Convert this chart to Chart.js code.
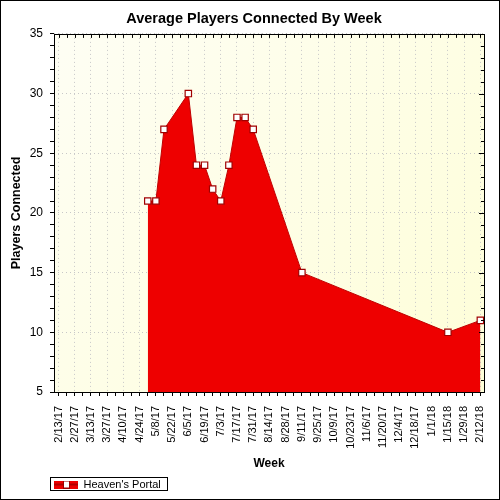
<!DOCTYPE html>
<html>
<head>
<meta charset="utf-8">
<script src="https://cdn.jsdelivr.net/npm/chart.js@4.4.1/dist/chart.umd.min.js"></script>
<style>
html, body { margin: 0; padding: 0; background: #fff; }
#wrap { width: 500px; height: 500px; }
</style>
</head>
<body>
<div id="wrap"><canvas id="playersChart" width="500" height="500"></canvas></div>
<script>
// weekly tick labels (every other one is printed)
var weekLabels = ['2/13/17', '2/20/17', '2/27/17', '3/6/17', '3/13/17', '3/20/17', '3/27/17',
    '4/3/17', '4/10/17', '4/17/17', '4/24/17', '5/1/17', '5/8/17', '5/15/17', '5/22/17',
    '5/29/17', '6/5/17', '6/12/17', '6/19/17', '6/26/17', '7/3/17', '7/10/17', '7/17/17',
    '7/24/17', '7/31/17', '8/7/17', '8/14/17', '8/21/17', '8/28/17', '9/4/17', '9/11/17',
    '9/18/17', '9/25/17', '10/2/17', '10/9/17', '10/16/17', '10/23/17', '10/30/17', '11/6/17',
    '11/13/17', '11/20/17', '11/27/17', '12/4/17', '12/11/17', '12/18/17', '12/25/17', '1/1/18',
    '1/8/18', '1/15/18', '1/22/18', '1/29/18', '2/5/18', '2/12/18'];

// weeks that have a value, and the value
var pointWeeks = ['5/1/17', '5/8/17', '5/15/17', '6/5/17', '6/12/17', '6/19/17', '6/26/17',
    '7/3/17', '7/10/17', '7/17/17', '7/24/17', '7/31/17', '9/11/17', '1/15/18', '2/12/18'];
var players = [21, 21, 27, 30, 24, 24, 22, 21, 24, 28, 28, 27, 15, 10, 11];

var seriesName = "Heaven's Portal";
var yMin = 5, yMax = 35;

var points = pointWeeks.map(function(w, i) {
    return { x: weekLabels.indexOf(w), y: players[i] };
});

// legend symbol: red bar with a white marker
var legendMark = document.createElement('canvas');
legendMark.width = 24;
legendMark.height = 8;
(function() {
    var c = legendMark.getContext('2d');
    c.fillStyle = '#ee0000';
    c.fillRect(0, 0, 24, 8);
    c.fillStyle = '#b00000';
    c.fillRect(0, 3, 24, 2);
    c.fillStyle = '#fff';
    c.fillRect(9, 1, 6, 6);
    c.strokeStyle = '#a00000';
    c.lineWidth = 1;
    c.strokeRect(9.5, 0.5, 6, 7);
})();

var decor = {
    id: 'decor',
    afterLayout: function(chart) {
        // move the legend item over to sit under the plot
        chart.legend.left = 48;
        // title is centred on the whole picture, not the padded box
        if (chart.titleBlock) {
            chart.titleBlock.left += 12;
            chart.titleBlock.right += 12;
        }
    },
    beforeDraw: function(chart) {
        var ctx = chart.ctx, a = chart.chartArea;
        ctx.save();
        ctx.fillStyle = '#fff';
        ctx.fillRect(0, 0, chart.width, chart.height);
        var g = ctx.createLinearGradient(a.left, a.top, a.right, a.bottom);
        g.addColorStop(0, '#fefef4');
        g.addColorStop(1, '#fefed8');
        ctx.fillStyle = g;
        ctx.fillRect(a.left, a.top, a.right - a.left, a.bottom - a.top);
        ctx.restore();
    },
    afterDraw: function(chart) {
        var ctx = chart.ctx, a = chart.chartArea;
        var xs = chart.scales.x, ys = chart.scales.y;
        ctx.save();
        ctx.strokeStyle = '#000';
        ctx.lineWidth = 1;
        ctx.beginPath();
        // mirrored ticks on top and right
        xs.ticks.forEach(function(t) {
            var px = Math.round(xs.getPixelForValue(t.value)) + 0.5;
            ctx.moveTo(px, a.top);
            ctx.lineTo(px, a.top + 4);
        });
        ys.ticks.forEach(function(t) {
            var py = Math.round(ys.getPixelForValue(t.value)) + 0.5;
            ctx.moveTo(a.right, py);
            ctx.lineTo(a.right - (t.value % 5 === 0 ? 5 : 3), py);
        });
        ctx.stroke();
        ctx.strokeRect(Math.round(a.left) + 0.5, Math.round(a.top) + 0.5,
            Math.round(a.right - a.left), Math.round(a.bottom - a.top));
        // outer frame
        ctx.strokeRect(0.5, 0.5, chart.width - 1, chart.height - 1);
        // legend frame
        var hb = chart.legend.legendHitBoxes[0];
        if (hb) {
            ctx.strokeRect(Math.round(hb.left) - 3.5, Math.round(hb.top) - 1.5,
                Math.round(hb.width) + 10, 13);
        }
        ctx.restore();
    }
};

var ctx = document.getElementById('playersChart').getContext('2d');

var chart = new Chart(ctx, {
    type: 'line',
    data: {
        datasets: [{
            label: seriesName,
            data: points,
            fill: 'start',
            backgroundColor: '#ee0000',
            borderColor: '#c00000',
            borderWidth: 1,
            tension: 0,
            spanGaps: true,
            pointStyle: 'rect',
            pointRadius: 4.5,
            pointBackgroundColor: '#fff',
            pointBorderColor: '#a00000',
            pointBorderWidth: 1.2,
            clip: 6
        }]
    },
    options: {
        responsive: false,
        animation: false,
        layout: { padding: { left: 0, right: 16, top: 0, bottom: 0 } },
        plugins: {
            title: {
                display: true,
                text: 'Average Players Connected By Week',
                color: '#000',
                font: { family: 'Liberation Sans, Arial, sans-serif', size: 14.5, weight: 'bold' },
                padding: { top: 10, bottom: 6.5 }
            },
            legend: {
                position: 'bottom',
                align: 'start',
                labels: {
                    color: '#000',
                    font: { family: 'Liberation Sans, Arial, sans-serif', size: 11 },
                    usePointStyle: true,
                    pointStyleWidth: 24,
                    padding: 6,
                    generateLabels: function(ch) {
                        return [{
                            text: seriesName,
                            pointStyle: legendMark,
                            fillStyle: '#ee0000',
                            strokeStyle: '#a00000',
                            lineWidth: 0,
                            datasetIndex: 0,
                            fontColor: '#000'
                        }];
                    }
                }
            },
            tooltip: { enabled: false }
        },
        scales: {
            x: {
                type: 'linear',
                min: -0.56,
                max: weekLabels.length - 1 + 0.45,
                afterFit: function(s) {
                    s.height = 81;
                    s.paddingLeft = 0;
                    s.paddingRight = 0;
                },
                border: { display: false, dash: [1, 3] },
                grid: {
                    color: function(c) { return c.tick && c.tick.value % 2 === 0 ? '#c8c8c8' : 'rgba(0,0,0,0)'; },
                    tickColor: '#000',
                    tickLength: 4,
                    drawOnChartArea: true
                },
                ticks: {
                    stepSize: 1,
                    includeBounds: false,
                    autoSkip: false,
                    minRotation: 90,
                    maxRotation: 90,
                    padding: 10,
                    color: '#000',
                    font: { family: 'Liberation Sans, Arial, sans-serif', size: 11 },
                    callback: function(v) {
                        return v % 2 === 0 ? weekLabels[v] : '';
                    }
                },
                title: {
                    display: true,
                    text: 'Week',
                    color: '#000',
                    font: { family: 'Liberation Sans, Arial, sans-serif', size: 12, weight: 'bold' },
                    padding: { top: 0, bottom: 2 }
                }
            },
            y: {
                min: yMin,
                max: yMax,
                afterFit: function(s) { s.width = 54; },
                border: { display: false, dash: [1, 3] },
                grid: {
                    color: function(c) { return c.tick && c.tick.value % 5 === 0 ? '#c8c8c8' : 'rgba(0,0,0,0)'; },
                    tickColor: '#000',
                    tickLength: 4
                },
                ticks: {
                    stepSize: 1,
                    autoSkip: false,
                    padding: 7,
                    color: '#000',
                    font: { family: 'Liberation Sans, Arial, sans-serif', size: 12 },
                    callback: function(v) {
                        return v % 5 === 0 ? v : '';
                    }
                },
                title: {
                    display: true,
                    text: 'Players Connected',
                    color: '#000',
                    font: { family: 'Liberation Sans, Arial, sans-serif', size: 12.5, weight: 'bold' },
                    padding: { top: 9, bottom: 0 }
                }
            }
        }
    },
    plugins: [decor]
});
</script>
</body>
</html>
